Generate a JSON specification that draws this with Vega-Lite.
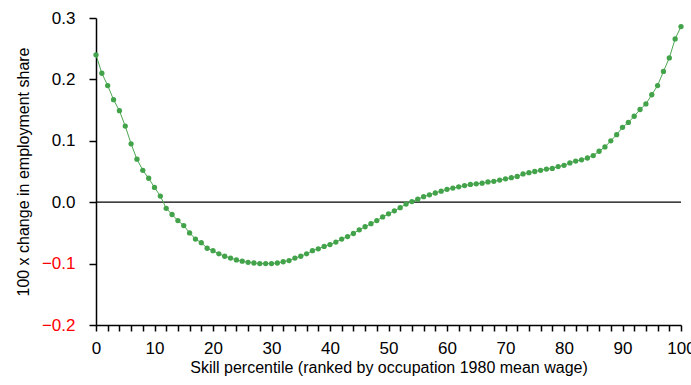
{
  "$schema": "https://vega.github.io/schema/vega-lite/v6.json",
  "width": 585,
  "height": 307,
  "autosize": "none",
  "padding": {"left": 96, "top": 18, "right": 10, "bottom": 60},
  "background": "white",
  "config": {
    "font": "Liberation Sans",
    "view": {"stroke": null},
    "axis": {"grid": false, "domainColor": "black", "tickColor": "black", "labelColor": "black", "titleColor": "black", "titleFontWeight": "normal", "labelFont": "Liberation Sans", "titleFont": "Liberation Sans"}
  },
  "data": {
    "values": [
      {"p": 0, "v": 0.240}, {"p": 1, "v": 0.210}, {"p": 2, "v": 0.190}, {"p": 3, "v": 0.167}, {"p": 4, "v": 0.149},
      {"p": 5, "v": 0.124}, {"p": 6, "v": 0.095}, {"p": 7, "v": 0.070}, {"p": 8, "v": 0.052}, {"p": 9, "v": 0.039},
      {"p": 10, "v": 0.024}, {"p": 11, "v": 0.010}, {"p": 12, "v": -0.010}, {"p": 13, "v": -0.020}, {"p": 14, "v": -0.030},
      {"p": 15, "v": -0.038}, {"p": 16, "v": -0.050}, {"p": 17, "v": -0.060}, {"p": 18, "v": -0.066}, {"p": 19, "v": -0.075},
      {"p": 20, "v": -0.079}, {"p": 21, "v": -0.084}, {"p": 22, "v": -0.088}, {"p": 23, "v": -0.091}, {"p": 24, "v": -0.094},
      {"p": 25, "v": -0.096}, {"p": 26, "v": -0.098}, {"p": 27, "v": -0.099}, {"p": 28, "v": -0.100}, {"p": 29, "v": -0.100},
      {"p": 30, "v": -0.100}, {"p": 31, "v": -0.099}, {"p": 32, "v": -0.097}, {"p": 33, "v": -0.095}, {"p": 34, "v": -0.091},
      {"p": 35, "v": -0.088}, {"p": 36, "v": -0.084}, {"p": 37, "v": -0.079}, {"p": 38, "v": -0.076}, {"p": 39, "v": -0.072},
      {"p": 40, "v": -0.069}, {"p": 41, "v": -0.065}, {"p": 42, "v": -0.060}, {"p": 43, "v": -0.056}, {"p": 44, "v": -0.051},
      {"p": 45, "v": -0.045}, {"p": 46, "v": -0.040}, {"p": 47, "v": -0.035}, {"p": 48, "v": -0.030}, {"p": 49, "v": -0.024},
      {"p": 50, "v": -0.019}, {"p": 51, "v": -0.014}, {"p": 52, "v": -0.009}, {"p": 53, "v": -0.003}, {"p": 54, "v": 0.001},
      {"p": 55, "v": 0.005}, {"p": 56, "v": 0.009}, {"p": 57, "v": 0.012}, {"p": 58, "v": 0.015}, {"p": 59, "v": 0.018},
      {"p": 60, "v": 0.021}, {"p": 61, "v": 0.023}, {"p": 62, "v": 0.025}, {"p": 63, "v": 0.027}, {"p": 64, "v": 0.029},
      {"p": 65, "v": 0.030}, {"p": 66, "v": 0.031}, {"p": 67, "v": 0.033}, {"p": 68, "v": 0.034}, {"p": 69, "v": 0.036},
      {"p": 70, "v": 0.038}, {"p": 71, "v": 0.040}, {"p": 72, "v": 0.042}, {"p": 73, "v": 0.046}, {"p": 74, "v": 0.048},
      {"p": 75, "v": 0.050}, {"p": 76, "v": 0.052}, {"p": 77, "v": 0.054}, {"p": 78, "v": 0.055}, {"p": 79, "v": 0.058},
      {"p": 80, "v": 0.060}, {"p": 81, "v": 0.064}, {"p": 82, "v": 0.067}, {"p": 83, "v": 0.069}, {"p": 84, "v": 0.072},
      {"p": 85, "v": 0.076}, {"p": 86, "v": 0.083}, {"p": 87, "v": 0.090}, {"p": 88, "v": 0.100}, {"p": 89, "v": 0.110},
      {"p": 90, "v": 0.122}, {"p": 91, "v": 0.130}, {"p": 92, "v": 0.140}, {"p": 93, "v": 0.151}, {"p": 94, "v": 0.160},
      {"p": 95, "v": 0.175}, {"p": 96, "v": 0.190}, {"p": 97, "v": 0.213}, {"p": 98, "v": 0.235}, {"p": 99, "v": 0.266},
      {"p": 100, "v": 0.286}
    ]
  },
  "encoding": {
    "x": {
      "field": "p", "type": "quantitative",
      "scale": {"domain": [0, 100], "nice": false, "zero": false},
      "axis": {
        "title": "Skill percentile (ranked by occupation 1980 mean wage)",
        "values": [0,2,4,6,8,10,12,14,16,18,20,22,24,26,28,30,32,34,36,38,40,42,44,46,48,50,52,54,56,58,60,62,64,66,68,70,72,74,76,78,80,82,84,86,88,90,92,94,96,98,100],
        "labelExpr": "datum.value % 10 === 0 ? datum.value : ''",
        "tickSize": 6, "tickWidth": 1.5, "domainWidth": 1.5,
        "labelFontSize": 17, "labelPadding": 9, "labelFlush": false,
        "titleFontSize": 16, "titlePadding": 3
      }
    },
    "y": {
      "field": "v", "type": "quantitative",
      "scale": {"domain": [-0.2, 0.3], "nice": false},
      "axis": {
        "title": "100 x change in employment share",
        "values": [-0.2, -0.1, 0, 0.1, 0.2, 0.3],
        "format": ".1f",
        "labelColor": {"expr": "datum.value < 0 ? 'red' : 'black'"},
        "tickSize": 7, "tickWidth": 1.5, "domainWidth": 1.5,
        "labelFontSize": 17, "labelPadding": 14, "labelFlush": false,
        "titleFontSize": 16, "titlePadding": 10
      }
    }
  },
  "layer": [
    {
      "data": {"values": [{"z": 0}]},
      "mark": {"type": "rule", "color": "black", "strokeWidth": 1.3},
      "encoding": {"y": {"field": "z", "type": "quantitative"}, "x": null}
    },
    {
      "mark": {"type": "line", "color": "#4CA64F", "strokeWidth": 1}
    },
    {
      "mark": {"type": "point", "filled": true, "color": "#43A34A", "size": 28, "opacity": 1}
    }
  ]
}
